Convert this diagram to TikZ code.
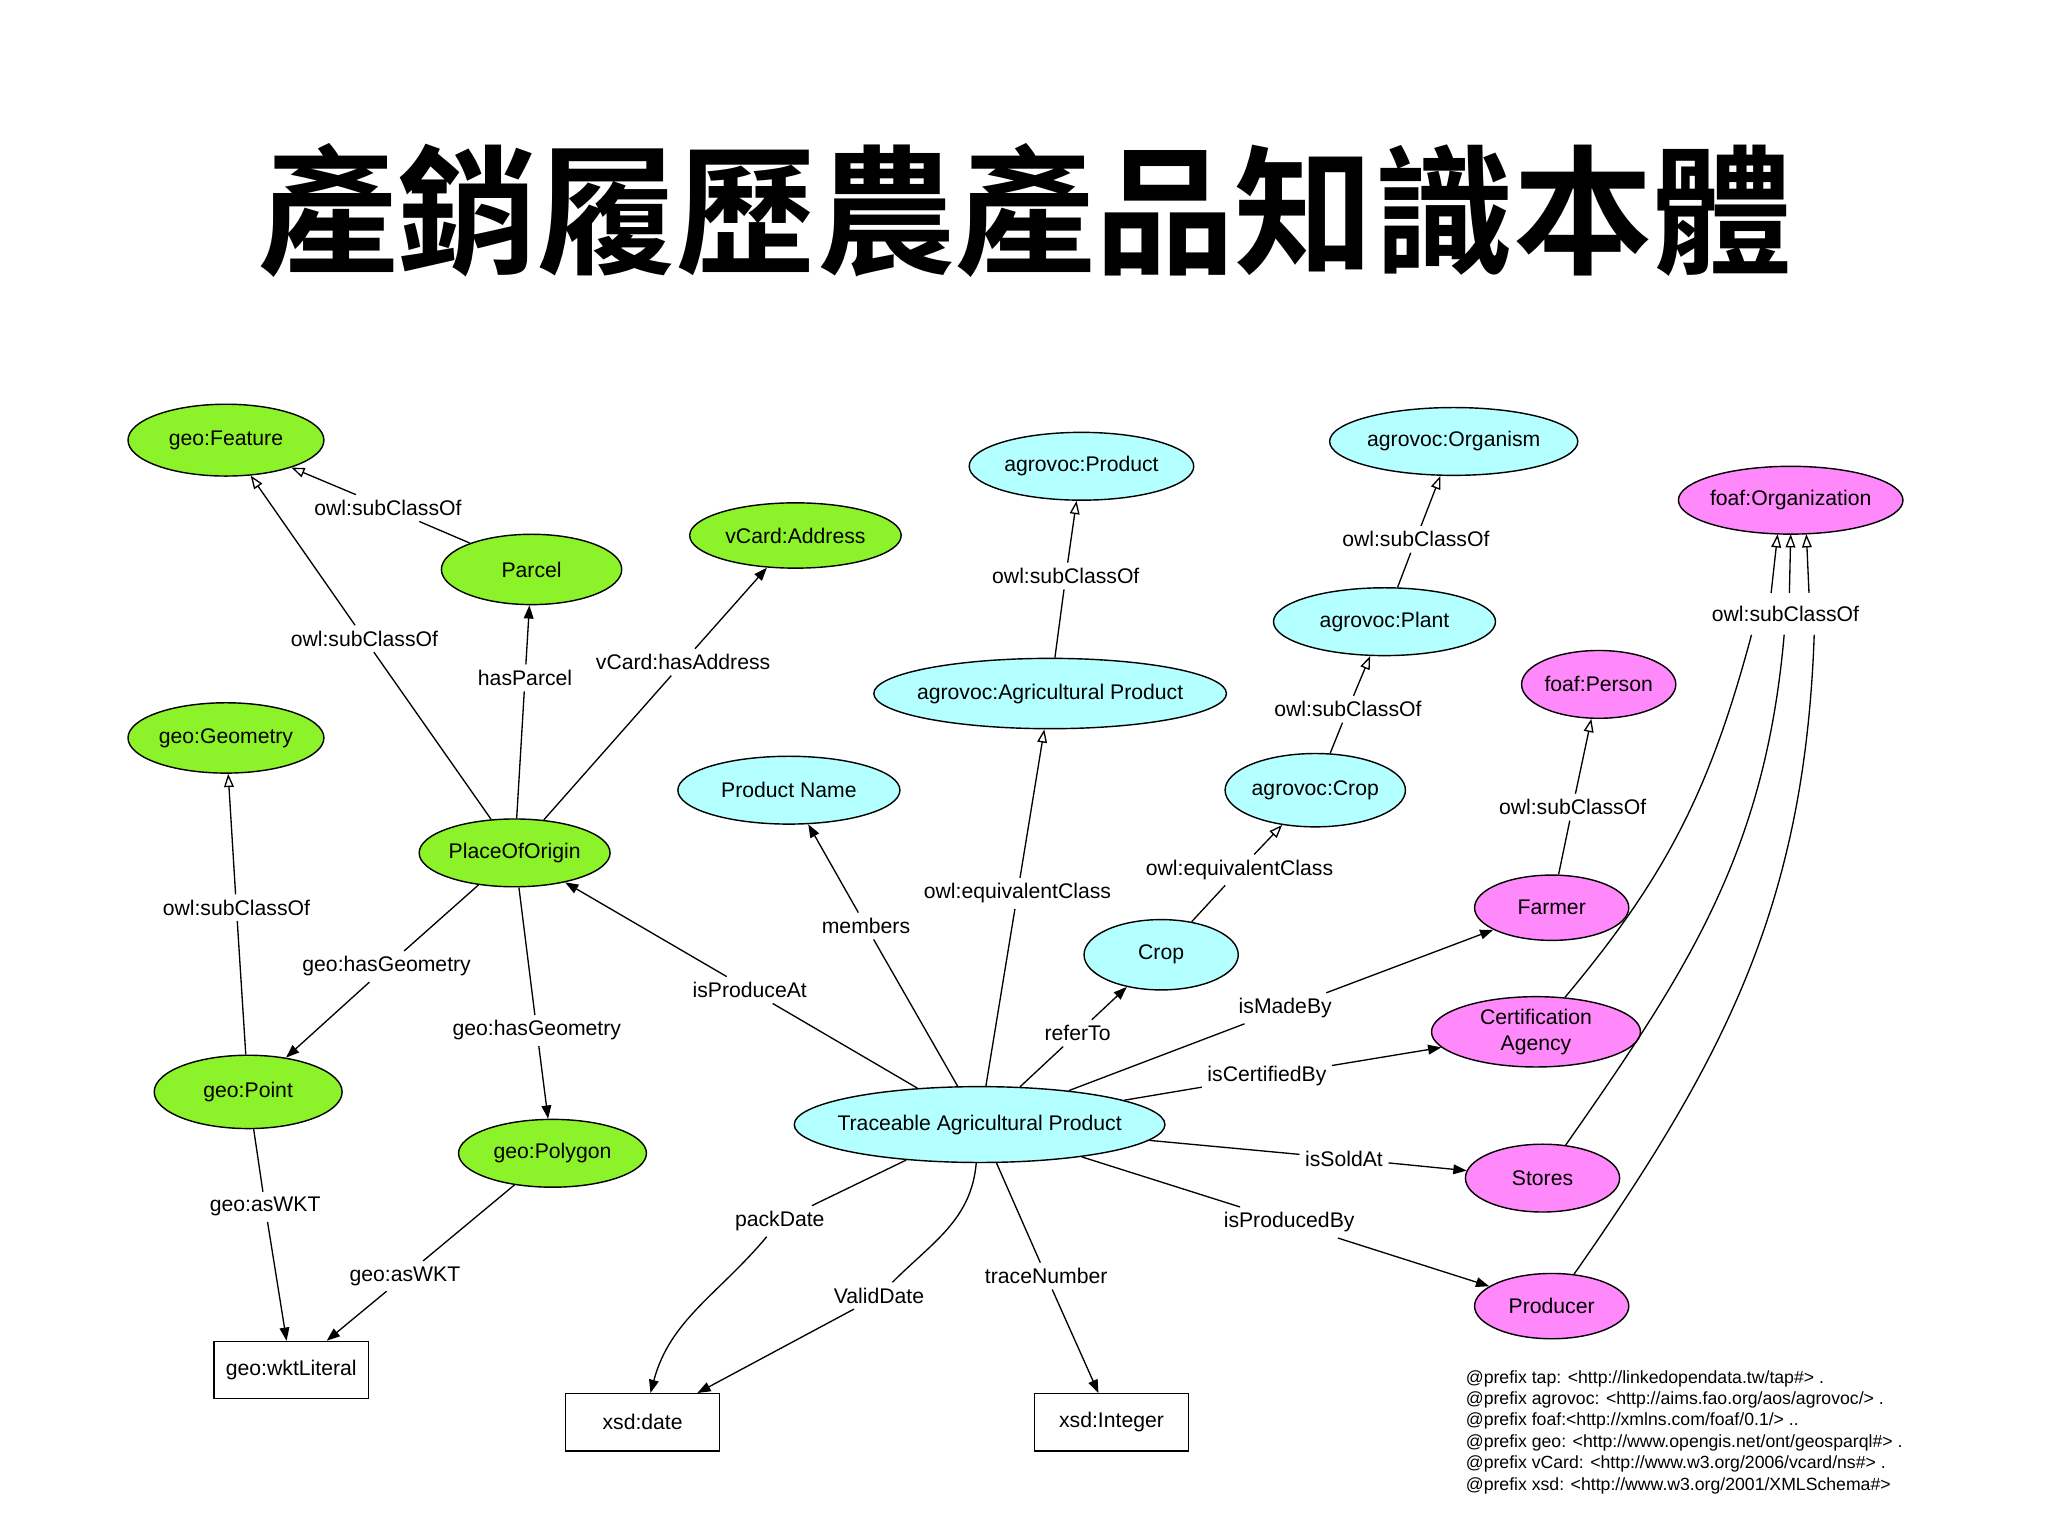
\documentclass[tikz,border=0pt]{standalone}
\usepackage{fontspec}
\setmainfont{Liberation Sans}
\newfontfamily\cjk{Noto Sans CJK TC}[BoldFont={Noto Sans CJK TC Bold}]
\usetikzlibrary{arrows.meta,shapes.geometric}
\definecolor{geogreen}{RGB}{140,242,42}
\definecolor{agrocyan}{RGB}{180,255,255}
\definecolor{foafpink}{RGB}{255,136,250}
\tikzset{
  cls/.style={ellipse,draw,line width=0.8pt,inner sep=0pt,font=\fontsize{12}{14.5}\selectfont},
  squeeze/.style={execute at begin node={\hbox to 0pt\bgroup\hss},execute at end node={\hss\egroup}},
  geo/.style={cls,fill=geogreen},
  agro/.style={cls,fill=agrocyan},
  foaf/.style={cls,fill=foafpink},
  lit/.style={rectangle,draw,line width=0.8pt,minimum width=3.07cm,minimum height=1.14cm,font=\fontsize{12}{14.5}\selectfont},
  rel/.style={inner sep=3pt,font=\fontsize{12}{14.5}\selectfont},
  edge/.style={line width=0.75pt},
  sub/.style={edge,-{Triangle[open,length=7.5pt,width=5.5pt]}},
  prop/.style={edge,-{Triangle[length=7.5pt,width=5.5pt]}}
}
\begin{document}
\begin{tikzpicture}[x=0.026cm,y=0.026cm]
  \useasboundingbox (0,2) rectangle (1568,1178);
  % Title
  \node[font=\cjk\bfseries\fontsize{79}{79}\selectfont] (title) at (785,1017) {產銷履歷農產品知識本體};
  % Geo classes
  \node[geo,minimum width=3.9cm,minimum height=1.43cm] (feature) at (173,841) {geo:Feature};
  \node[geo,minimum width=3.59cm,minimum height=1.4cm] (parcel) at (407,742) {Parcel};
  \node[geo,minimum width=4.21cm,minimum height=1.3cm] (address) at (609,768) {vCard:Address};
  \node[geo,minimum width=3.9cm,minimum height=1.4cm] (geometry) at (173,613) {geo:Geometry};
  \node[geo,minimum width=3.8cm,minimum height=1.35cm] (origin) at (394,525) {PlaceOfOrigin};
  \node[geo,minimum width=3.74cm,minimum height=1.46cm] (point) at (190,342) {geo:Point};
  \node[geo,minimum width=3.74cm,minimum height=1.35cm] (polygon) at (423,295) {geo:Polygon};
  % Agrovoc classes
  \node[agro,minimum width=4.47cm,minimum height=1.35cm] (product) at (828,821) {agrovoc:Product};
  \node[agro,minimum width=4.94cm,minimum height=1.35cm] (organism) at (1113,840) {agrovoc:Organism};
  \node[agro,minimum width=4.42cm,minimum height=1.35cm] (plant) at (1060,702) {agrovoc:Plant};
  \node[agro,squeeze,minimum width=7.02cm,minimum height=1.4cm] (agriprod) at (804,647) {agrovoc:Agricultural Product};
  \node[agro,minimum width=4.42cm,minimum height=1.35cm] (pname) at (604,573) {Product Name};
  \node[agro,minimum width=3.59cm,minimum height=1.46cm] (agrocrop) at (1007,573) {agrovoc:Crop};
  \node[agro,minimum width=3.07cm,minimum height=1.4cm] (crop) at (889,447) {Crop};
  \node[agro,squeeze,minimum width=7.38cm,minimum height=1.51cm] (tap) at (750,317) {Traceable Agricultural Product};
  % Foaf classes
  \node[foaf,squeeze,minimum width=4.47cm,minimum height=1.35cm] (org) at (1371,795) {foaf:Organization};
  \node[foaf,minimum width=3.07cm,minimum height=1.35cm] (person) at (1224,654) {foaf:Person};
  \node[foaf,minimum width=3.07cm,minimum height=1.3cm] (farmer) at (1188,483) {Farmer};
  \node[foaf,align=center,minimum width=4.16cm,minimum height=1.4cm] (cert) at (1176,388) {Certification\\Agency};
  \node[foaf,minimum width=3.07cm,minimum height=1.35cm] (stores) at (1181,276) {Stores};
  \node[foaf,minimum width=3.07cm,minimum height=1.3cm] (producer) at (1188,178) {Producer};
  % Literals
  \node[lit] (wkt) at (223,129) {geo:wktLiteral};
  \node[lit] (date) at (492,89) {xsd:date};
  \node[lit] (integer) at (851,89) {xsd:Integer};
  % Edge labels
  \node[rel] (l1) at (297,789) {owl:subClassOf};
  \node[rel] (l2) at (279,689) {owl:subClassOf};
  \node[rel] (l3) at (402,659) {hasParcel};
  \node[rel] (l4) at (523,671) {vCard:hasAddress};
  \node[rel] (l5) at (181,483) {owl:subClassOf};
  \node[rel] (l6) at (296,438) {geo:hasGeometry};
  \node[rel] (l7) at (411,389) {geo:hasGeometry};
  \node[rel] (l8) at (203,254) {geo:asWKT};
  \node[rel] (l9) at (310,201) {geo:asWKT};
  \node[rel] (l10) at (574,420) {isProduceAt};
  \node[rel] (l11) at (663,469) {members};
  \node[rel] (l12) at (779,494) {owl:equivalentClass};
  \node[rel] (l13) at (816,737) {owl:subClassOf};
  \node[rel] (l14) at (825,387) {referTo};
  \node[rel] (l15) at (949,512) {owl:equivalentClass};
  \node[rel] (l16) at (1032,635) {owl:subClassOf};
  \node[rel] (l17) at (1084,765) {owl:subClassOf};
  \node[rel] (l18) at (1204,560) {owl:subClassOf};
  \node[rel] (l19) at (984,406) {isMadeBy};
  \node[rel] (l20) at (970,354) {isCertifiedBy};
  \node[rel] (l21) at (1029,291) {isSoldAt};
  \node[rel] (l22) at (987,242) {isProducedBy};
  \node[rel] (l23) at (597,243) {packDate};
  \node[rel] (l24) at (673,186) {ValidDate};
  \node[rel] (l25) at (801,201) {traceNumber};
  \node[rel] (l26) at (1367,708) {owl:subClassOf};
  % subClassOf / equivalentClass edges
  \foreach \a/\l/\b in {parcel/l1/feature,origin/l2/feature,point/l5/geometry,
      tap/l12/agriprod,agriprod/l13/product,crop/l15/agrocrop,agrocrop/l16/plant,
      plant/l17/organism,farmer/l18/person} {
    \draw[edge] (\a) -- (\l);
    \draw[sub] (\l) -- (\b);
  }
  % Property edges
  \foreach \a/\l/\b in {origin/l3/parcel,origin/l4/address,origin/l6/point,
      origin/l7/polygon,point/l8/wkt,polygon/l9/wkt,tap/l10/origin,tap/l11/pname,
      tap/l14/crop,tap/l19/farmer,tap/l20/cert,tap/l21/stores,tap/l22/producer,
      tap/l25/integer} {
    \draw[edge] (\a) -- (\l);
    \draw[prop] (\l) -- (\b);
  }
  % Dates
  \draw[edge] (tap) -- (l23);
  \draw[prop] (l23) to[out=-130,in=75] (date);
  \draw[edge] (tap) to[out=-95,in=45] (l24);
  \draw[prop] (l24) -- (date);
  % Organizations
  \coordinate (c1) at (1341,692);
  \coordinate (c2) at (1366,692);
  \coordinate (c3) at (1389,692);
  \coordinate (u1) at (1356,724);
  \coordinate (u2) at (1370,724);
  \coordinate (u3) at (1385,724);
  \coordinate (o1) at (1361,769);
  \coordinate (o2) at (1371,769);
  \coordinate (o3) at (1383,769);
  \draw[edge] (cert) to[out=50,in=-105] (c1);
  \draw[edge] (stores) to[out=55,in=-95] (c2);
  \draw[edge] (producer) to[out=55,in=-92] (c3);
  \foreach \i in {1,2,3}
    \draw[sub] (u\i) -- (o\i);
  % Prefixes
  \node[anchor=north west,align=left,inner sep=0pt,font=\fontsize{10}{12.1}\selectfont] (prefixes) at (1122,129)
    {@prefix tap: <http://linkedopendata.tw/tap\#> .\\
     @prefix agrovoc: <http://aims.fao.org/aos/agrovoc/> .\\
     @prefix foaf:<http://xmlns.com/foaf/0.1/> ..\\
     @prefix geo: <http://www.opengis.net/ont/geosparql\#> .\\
     @prefix vCard: <http://www.w3.org/2006/vcard/ns\#> .\\
     @prefix xsd: <http://www.w3.org/2001/XMLSchema\#>};
\end{tikzpicture}
\end{document}
